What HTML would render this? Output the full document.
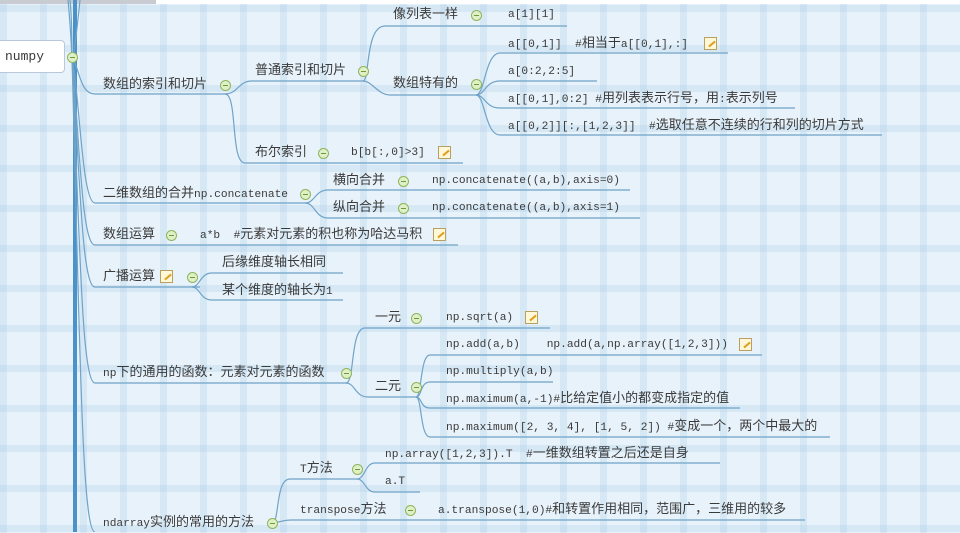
<!DOCTYPE html>
<html><head><meta charset="utf-8">
<style>
html,body{margin:0;padding:0}
body{width:960px;height:532px;overflow:hidden;position:relative;
background-color:#e8f2fa;
background-image:
repeating-linear-gradient(90deg,rgba(170,205,232,.28) 0 7px,transparent 7px 40px),
repeating-linear-gradient(0deg,rgba(170,205,232,.28) 0 7px,transparent 7px 40px);
font-family:"Liberation Mono","Noto Sans CJK SC",monospace;color:#3a3a3a}
.t{position:absolute;white-space:pre;font-size:11.2px;line-height:18px;height:18px}
.t b{font-weight:normal;font-size:13px;line-height:16px;font-family:"Liberation Sans","Noto Sans CJK SC",sans-serif}
.c{position:absolute;width:11px;height:11px;border-radius:50%;border:1px solid #8fb45a;background:#dff0c8;box-sizing:border-box}
.c:after{content:"";position:absolute;left:2px;right:2px;top:4px;height:1px;background:#6f9a3a}
.n{position:absolute;width:13px;height:13px;background:#fff8d8;border:1px solid #b9a060;box-sizing:border-box}
.n:after{content:"";position:absolute;left:3px;top:5px;width:8px;height:2px;background:#e0a020;transform:rotate(-40deg)}
svg{position:absolute;left:0;top:0}
</style></head><body>
<div style="position:absolute;left:0;top:0;width:156px;height:4px;background:#c8ccd2"></div>
<div style="position:absolute;left:156px;top:0;width:804px;height:4px;background:#fff"></div>
<svg width="960" height="532" fill="none" stroke="#6fa3c8" stroke-width="1.2">
<path d="M75 0 V532" stroke="#4a92c8" stroke-width="4"/>
<path d="M70 0 C72 20 72 40 72 57 M68 0 C70 20 71 40 72 57 M80 0 C78 20 76 40 73 57"/>
<path d="M72 57 C80 70 80 94 95 94 H228"/>
<path d="M72 57 C80 100 82 203 95 203 H308"/>
<path d="M72 57 C80 150 82 245 95 245 H458"/>
<path d="M72 57 C80 180 82 287 95 287 H200"/>
<path d="M72 57 C80 250 82 383 95 383 H348"/>
<path d="M72 57 C80 350 82 532 95 532"/>
<path d="M225 94 C238 94 238 81 252 81 H364"/>
<path d="M225 94 C238 94 230 163 245 163 H463"/>
<path d="M363 81 C370 81 365 26 385 26 H567"/>
<path d="M363 81 C372 81 378 95 390 95 H478"/>
<path d="M476 95 C485 95 485 53 500 53 H728"/>
<path d="M476 95 C485 95 485 81 500 81 H597"/>
<path d="M476 95 C485 95 485 108 500 108 H795"/>
<path d="M476 95 C485 95 485 135 500 135 H882"/>
<path d="M305 203 C315 203 315 190 328 190 H630"/>
<path d="M305 203 C315 203 315 218 328 218 H640"/>
<path d="M192 287 C200 287 200 273 212 273 H343"/>
<path d="M192 287 C200 287 200 300 212 300 H343"/>
<path d="M346 383 C355 383 350 328 365 328 H550"/>
<path d="M346 383 C355 383 355 397 368 397 H418"/>
<path d="M416 397 C422 397 420 355 430 355 H762"/>
<path d="M416 397 C422 397 420 382 430 382 H553"/>
<path d="M416 397 C422 397 420 408 430 408 H740"/>
<path d="M416 397 C422 397 420 437 430 437 H830"/>
<path d="M272 523 C280 523 275 479 290 479 H358"/>
<path d="M272 523 C280 523 280 520 292 520 H805"/>
<path d="M357 479 C365 479 365 463 375 463 H720"/>
<path d="M357 479 C365 479 365 492 375 492 H420"/>
</svg>
<div style="position:absolute;left:-6px;top:40px;width:71px;height:33px;background:#fff;border:1px solid #b8c8d8;border-radius:4px;box-sizing:border-box"></div>
<div class="t" style="left:5px;top:48px;font-size:13px">numpy</div>
<div class="c" style="left:67px;top:52px"></div>

<div class="t" style="left:103px;top:76px"><b>数组的索引和切片</b></div><div class="c" style="left:220px;top:80px"></div>
<div class="t" style="left:255px;top:62px"><b>普通索引和切片</b></div><div class="c" style="left:358px;top:66px"></div>
<div class="t" style="left:393px;top:6px"><b>像列表一样</b></div><div class="c" style="left:471px;top:10px"></div>
<div class="t" style="left:508px;top:6px">a[1][1]</div>
<div class="t" style="left:393px;top:75px"><b>数组特有的</b></div><div class="c" style="left:471px;top:79px"></div>
<div class="t" style="left:508px;top:35px">a[[0,1]]  #<b>相当于</b>a[[0,1],:]</div><div class="n" style="left:704px;top:37px"></div>
<div class="t" style="left:508px;top:63px">a[0:2,2:5]</div>
<div class="t" style="left:508px;top:90px">a[[0,1],0:2] #<b>用列表表示行号，用</b>:<b>表示列号</b></div>
<div class="t" style="left:508px;top:117px">a[[0,2]][:,[1,2,3]]  #<b>选取任意不连续的行和列的切片方式</b></div>
<div class="t" style="left:255px;top:144px"><b>布尔索引</b></div><div class="c" style="left:318px;top:148px"></div>
<div class="t" style="left:351px;top:144px">b[b[:,0]&gt;3]</div><div class="n" style="left:438px;top:146px"></div>

<div class="t" style="left:103px;top:185px"><b>二维数组的合并</b>np.concatenate</div><div class="c" style="left:300px;top:189px"></div>
<div class="t" style="left:333px;top:172px"><b>横向合并</b></div><div class="c" style="left:398px;top:176px"></div>
<div class="t" style="left:432px;top:172px">np.concatenate((a,b),axis=0)</div>
<div class="t" style="left:333px;top:199px"><b>纵向合并</b></div><div class="c" style="left:398px;top:203px"></div>
<div class="t" style="left:432px;top:199px">np.concatenate((a,b),axis=1)</div>

<div class="t" style="left:103px;top:226px"><b>数组运算</b></div><div class="c" style="left:166px;top:230px"></div>
<div class="t" style="left:200px;top:226px">a*b  #<b>元素对元素的积也称为哈达马积</b></div><div class="n" style="left:433px;top:228px"></div>

<div class="t" style="left:103px;top:268px"><b>广播运算</b></div><div class="n" style="left:160px;top:270px"></div><div class="c" style="left:187px;top:272px"></div>
<div class="t" style="left:222px;top:254px"><b>后缘维度轴长相同</b></div>
<div class="t" style="left:222px;top:282px"><b>某个维度的轴长为</b>1</div>

<div class="t" style="left:103px;top:364px">np<b>下的通用的函数：元素对元素的函数</b></div><div class="c" style="left:341px;top:368px"></div>
<div class="t" style="left:375px;top:309px"><b>一元</b></div><div class="c" style="left:411px;top:313px"></div>
<div class="t" style="left:446px;top:309px">np.sqrt(a)</div><div class="n" style="left:525px;top:311px"></div>
<div class="t" style="left:375px;top:378px"><b>二元</b></div><div class="c" style="left:411px;top:382px"></div>
<div class="t" style="left:446px;top:336px">np.add(a,b)    np.add(a,np.array([1,2,3]))</div><div class="n" style="left:739px;top:338px"></div>
<div class="t" style="left:446px;top:363px">np.multiply(a,b)</div>
<div class="t" style="left:446px;top:390px">np.maximum(a,-1)#<b>比给定值小的都变成指定的值</b></div>
<div class="t" style="left:446px;top:418px">np.maximum([2, 3, 4], [1, 5, 2]) #<b>变成一个，两个中最大的</b></div>

<div class="t" style="left:103px;top:514px">ndarray<b>实例的常用的方法</b></div><div class="c" style="left:267px;top:518px"></div>
<div class="t" style="left:300px;top:460px">T<b>方法</b></div><div class="c" style="left:352px;top:464px"></div>
<div class="t" style="left:385px;top:445px">np.array([1,2,3]).T  #<b>一维数组转置之后还是自身</b></div>
<div class="t" style="left:385px;top:473px">a.T</div>
<div class="t" style="left:300px;top:501px">transpose<b>方法</b></div><div class="c" style="left:405px;top:505px"></div>
<div class="t" style="left:438px;top:501px">a.transpose(1,0)#<b>和转置作用相同，范围广，三维用的较多</b></div>
</body></html>
